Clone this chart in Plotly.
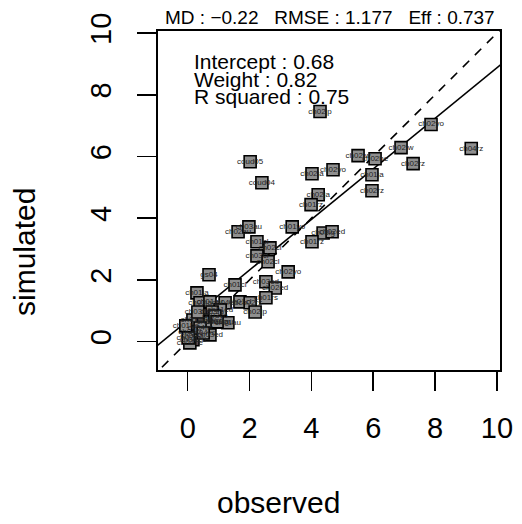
import plotly.graph_objects as go

# ---- data ----
observed = [4.28, 2.02, 2.40, 4.02, 4.70, 4.22, 3.99, 5.51, 6.06, 5.96,
            5.96, 7.87, 6.90, 7.29, 9.17, 4.38, 4.67, 4.02, 1.63, 1.98,
            3.38, 2.24, 2.66, 2.24, 2.60, 3.25, 0.69, 1.53, 2.53, 2.83,
            2.53, 0.30, 0.40, 0.72, 1.21, 1.69, 2.02, 2.18, 1.05, 0.79,
            0.17, 0.50, 0.72, 1.05, 1.30, 0.07, 0.14, 0.72, 0.17, 0.40,
            0.88, -0.06, 0.33, 0.07, 0.50, 0.95, 0.02]
simulated = [7.46, 5.83, 5.15, 5.44, 5.57, 4.76, 4.44, 6.03, 5.93, 5.41,
             4.89, 7.04, 6.29, 5.77, 6.26, 3.52, 3.56, 3.24, 3.56, 3.72,
             3.72, 3.24, 3.04, 2.78, 2.59, 2.26, 2.17, 1.84, 1.94, 1.74,
             1.42, 1.58, 1.26, 1.29, 1.26, 1.29, 1.26, 0.96, 1.03, 0.96,
             0.70, 0.70, 0.64, 0.64, 0.61, 0.31, 0.18, 0.22, 0.06, 0.44,
             0.83, 0.51, 0.96, -0.04, 0.28, 0.64, 0.12]
sites = ["ch02jp", "coud05", "coud04", "ch02ja", "ch02yo", "ch02ja", "ch01rz", "ch02lw", "ch02he", "ch01ja",
         "ch02rz", "ch02yo", "ch02lw", "ch02rz", "ch04rz", "ch03ig", "ch02ed", "ch01rz", "ch02au", "ch03au",
         "ch01yo", "ch01cl", "ch02cl", "ch03cl", "ch02cl", "ch02yo", "gs04", "ch01cl", "ch03ed", "ch02ed",
         "ch01rs", "ch01ja", "ch03ja", "ch01au", "ch04ed", "ch01cl", "ch02rs", "ch02jp", "ch01ed", "ch03rs",
         "ch01lw", "ch03lw", "ch04au", "ch02au", "ch01au", "ch04cl", "ch04ja", "ch03ed", "ch04ed", "ch04lw",
         "ch03yo", "ch01he", "ch03he", "ch04he", "ch04yo", "ch01ig", "ch02ig"]

intercept = 0.68
weight = 0.82
r_squared = 0.75
md, rmse, eff = -0.22, 1.177, 0.737

x_ticks = [0, 2, 4, 6, 8, 10]
y_ticks = [0, 2, 4, 6, 8, 10]
x_range = [-0.96, 10.1]
y_range = [-0.92, 10.07]

FONT = "Liberation Sans, Arial, Helvetica, sans-serif"

fig = go.Figure()

# 1:1 line (dashed)
fig.add_trace(go.Scatter(x=[-2, 12], y=[-2, 12], mode="lines",
                         line=dict(color="black", width=1.6, dash="9px,8px"),
                         showlegend=False, hoverinfo="skip"))
# regression line
fig.add_trace(go.Scatter(x=[-2, 12], y=[intercept + weight * -2, intercept + weight * 12],
                         mode="lines", line=dict(color="black", width=1.6),
                         showlegend=False, hoverinfo="skip"))
# points with site labels
fig.add_trace(go.Scatter(x=observed, y=simulated, mode="markers+text",
                         text=sites, textposition="middle center",
                         textfont=dict(family=FONT, size=8, color="#222222"),
                         marker=dict(symbol="square", size=12, color="#8f8f8f",
                                     line=dict(color="black", width=1.6)),
                         showlegend=False, cliponaxis=True))

axis_common = dict(showgrid=False, zeroline=False, showline=True, linecolor="black",
                   linewidth=1.6, mirror=True, ticks="outside", ticklen=19,
                   tickwidth=1.6, tickcolor="black", automargin=False,
                   tickfont=dict(family=FONT, size=29, color="black"))

fig.update_xaxes(range=x_range, tickvals=x_ticks, ticktext=[str(v) for v in x_ticks],
                 ticklabelstandoff=13, **axis_common)
fig.update_yaxes(range=y_range, tickvals=y_ticks, ticktext=[str(v) for v in y_ticks],
                 tickangle=-90, ticklabelstandoff=15, **axis_common)

W, H = 522, 524
L, T, R, B = 158, 31, 22, 154
pw, ph = W - L - R, H - T - B

def px(xp):
    return (xp - L) / pw

def py(yp):
    return (H - B - yp) / ph

annos = [
    dict(text="observed", x=px(278), y=py(502), xanchor="center", yanchor="middle",
         font=dict(family=FONT, size=30, color="black")),
    dict(text="simulated", x=px(24), y=py(252), xanchor="center", yanchor="middle",
         textangle=-90, font=dict(family=FONT, size=30, color="black")),
    dict(text=f"MD : \u2212{abs(md):.2f}   RMSE : {rmse:.3f}   Eff : {eff:.3f}",
         x=px(497), y=py(17.5), xanchor="right", yanchor="middle",
         font=dict(family=FONT, size=19, color="black")),
    dict(text=f"Intercept : {intercept:.2f}", x=px(192), y=py(61), xanchor="left",
         yanchor="middle", font=dict(family=FONT, size=21, color="black")),
    dict(text=f"Weight : {weight:.2f}", x=px(192), y=py(79), xanchor="left",
         yanchor="middle", font=dict(family=FONT, size=21, color="black")),
    dict(text=f"R squared : {r_squared:.2f}", x=px(192), y=py(96.5), xanchor="left",
         yanchor="middle", font=dict(family=FONT, size=21, color="black")),
]
for a in annos:
    a.update(xref="paper", yref="paper", showarrow=False)

fig.update_layout(width=W, height=H, margin=dict(l=L, r=R, t=T, b=B),
                  plot_bgcolor="white", paper_bgcolor="white",
                  annotations=annos, showlegend=False)

# remove the default 8px page margin so the figure fills the window exactly
fig.write_html("out.html",
               config={"displayModeBar": False, "staticPlot": True},
               post_script="document.body.style.margin='0px';"
                           "document.body.style.overflow='hidden';")
